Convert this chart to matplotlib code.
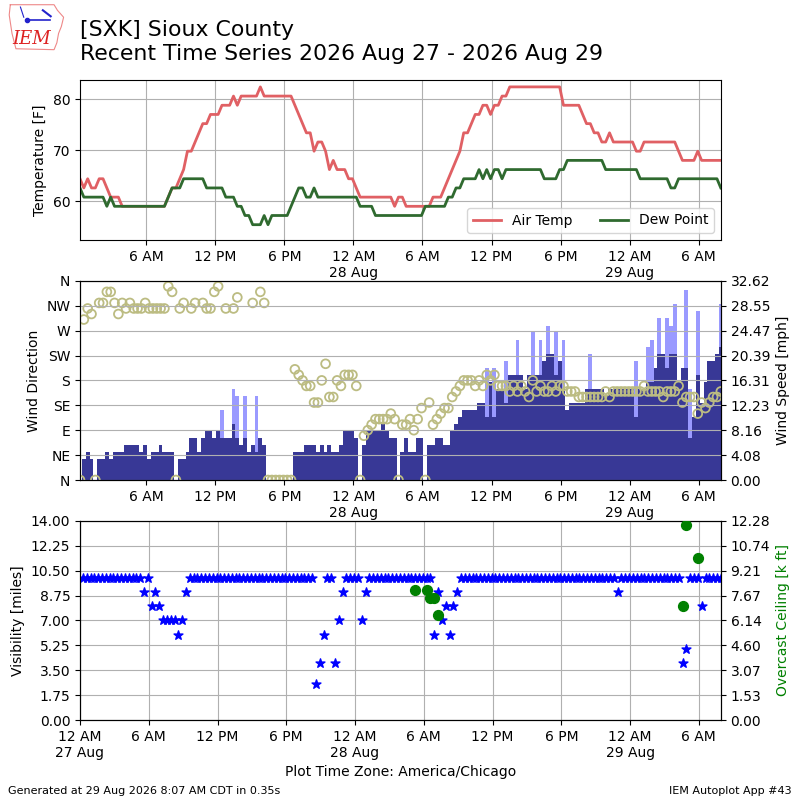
import numpy as np
import pandas as pd
import matplotlib
matplotlib.use('Agg')
import matplotlib.pyplot as plt
import matplotlib.dates as mdates
from matplotlib.ticker import FuncFormatter

N = np.nan

# observation times (AWOS, every 20 min)
obs_start = '2026-08-27 00:15'
obs_end = '2026-08-29 07:55'
plot_start = '2026-08-27 00:00'

# air temperature [F], 12 obs per row (4 hours)
tmpf = [
    64.4, 62.6, 64.4, 62.6, 62.6, 64.4, 64.4, 62.6, 60.8, 60.8, 60.8, 59,
    59, 59, 59, 59, 59, 59, 59, 59, 59, 59, 59, 60.8,
    62.6, 62.6, 64.4, 66.2, 69.8, 69.8, 71.6, 73.4, 75.2, 75.2, 77, 77,
    77, 78.8, 78.8, 78.8, 80.6, 78.8, 80.6, 80.6, 80.6, 80.6, 80.6, 82.4,
    80.6, 80.6, 80.6, 80.6, 80.6, 80.6, 80.6, 80.6, 78.8, 77, 75.2, 73.4,
    73.4, 69.8, 71.6, 71.6, 69.8, 66.2, 68, 66.2, 66.2, 66.2, 64.4, 64.4,
    62.6, 60.8, 60.8, 60.8, 60.8, 60.8, 60.8, 60.8, 60.8, 60.8, 59, 60.8,
    60.8, 59, 59, 59, 59, 59, 59, 59, 60.8, 60.8, 60.8, 62.6,
    64.4, 66.2, 68, 69.8, 73.4, 73.4, 75.2, 77, 77, 78.8, 78.8, 77,
    78.8, 78.8, 80.6, 80.6, 82.4, 82.4, 82.4, 82.4, 82.4, 82.4, 82.4, 82.4,
    82.4, 82.4, 82.4, 82.4, 82.4, 82.4, 78.8, 78.8, 78.8, 78.8, 78.8, 77,
    75.2, 75.2, 73.4, 73.4, 71.6, 71.6, 73.4, 71.6, 71.6, 71.6, 71.6, 71.6,
    71.6, 69.8, 69.8, 71.6, 71.6, 71.6, 71.6, 71.6, 71.6, 71.6, 71.6, 71.6,
    69.8, 68, 68, 68, 68, 69.8, 68, 68, 68, 68, 68, 68,
]

# dew point [F]
dwpf = [
    62.6, 60.8, 60.8, 60.8, 60.8, 60.8, 60.8, 59, 60.8, 59, 59, 59,
    59, 59, 59, 59, 59, 59, 59, 59, 59, 59, 59, 60.8,
    62.6, 62.6, 62.6, 64.4, 64.4, 64.4, 64.4, 64.4, 64.4, 62.6, 62.6, 62.6,
    62.6, 62.6, 60.8, 60.8, 60.8, 59, 59, 57.2, 57.2, 55.4, 55.4, 55.4,
    57.2, 55.4, 57.2, 57.2, 57.2, 57.2, 57.2, 59, 60.8, 62.6, 62.6, 60.8,
    60.8, 62.6, 60.8, 60.8, 60.8, 60.8, 60.8, 60.8, 60.8, 60.8, 60.8, 60.8,
    60.8, 59, 59, 59, 59, 57.2, 57.2, 57.2, 57.2, 57.2, 57.2, 57.2,
    57.2, 57.2, 57.2, 57.2, 57.2, 57.2, 59, 59, 59, 59, 59, 59,
    60.8, 60.8, 62.6, 62.6, 64.4, 64.4, 64.4, 64.4, 66.2, 64.4, 66.2, 64.4,
    66.2, 66.2, 64.4, 66.2, 66.2, 66.2, 66.2, 66.2, 66.2, 66.2, 66.2, 66.2,
    66.2, 64.4, 64.4, 64.4, 64.4, 66.2, 66.2, 68, 68, 68, 68, 68,
    68, 68, 68, 68, 68, 66.2, 66.2, 66.2, 66.2, 66.2, 66.2, 66.2,
    66.2, 66.2, 64.4, 64.4, 64.4, 64.4, 64.4, 64.4, 64.4, 64.4, 62.6, 62.6,
    64.4, 64.4, 64.4, 64.4, 64.4, 64.4, 64.4, 64.4, 64.4, 64.4, 64.4, 62.6,
]

# wind speed [mph]
sped = [
    0, 3.45, 4.6, 3.45, 0, 3.45, 3.45, 4.6, 3.45, 4.6, 4.6, 4.6,
    5.75, 5.75, 5.75, 5.75, 4.6, 5.75, 3.45, 4.6, 4.6, 5.75, 4.6, 4.6,
    4.6, 0, 3.45, 3.45, 4.6, 6.9, 6.9, 4.6, 6.9, 8.06, 8.06, 6.9,
    8.06, 6.9, 6.9, 6.9, 9.2, 6.9, 5.75, 6.9, 4.6, 5.75, 4.6, 6.9,
    5.75, 0, 0, 0, 0, 0, 0, 0, 4.6, 4.6, 4.6, 5.75,
    5.75, 5.75, 4.6, 5.75, 4.6, 5.75, 4.6, 4.6, 5.75, 8.06, 8.06, 8.06,
    6.9, 0, 5.75, 8.06, 8.06, 8.06, 8.06, 9.2, 8.06, 6.9, 6.9, 0,
    4.6, 6.9, 4.6, 4.6, 6.9, 6.9, 0, 5.75, 5.75, 6.9, 6.9, 5.75,
    5.75, 8.06, 9.2, 10.36, 11.5, 11.5, 11.5, 11.5, 12.66, 12.66, 10.36, 16.1,
    10.36, 14.96, 14.96, 12.66, 17.26, 17.26, 17.26, 17.26, 14.96, 17.26, 17.26, 17.26,
    17.26, 19.56, 20.7, 20.7, 17.26, 19.56, 14.96, 11.5, 12.66, 12.66, 12.66, 12.66,
    14.96, 14.96, 14.96, 14.96, 14.96, 13.8, 14.96, 14.96, 14.96, 14.96, 14.96, 14.96,
    14.96, 10.36, 14.96, 14.96, 16.1, 16.1, 18.4, 20.7, 20.7, 18.4, 20.7, 20.7,
    16.1, 18.4, 18.4, 6.9, 10.36, 17.26, 12.66, 16.1, 19.56, 19.56, 20.7, 21.86,
]

# wind gust [mph]
gust = [
    N, N, N, N, N, N, N, N, N, N, N, N,
    N, N, N, N, N, N, N, N, N, N, N, N,
    N, N, N, N, N, N, N, N, N, N, N, N,
    N, 11.5, N, N, 14.96, 13.8, N, 13.8, N, N, 13.8, N,
    N, N, N, N, N, N, N, N, N, N, N, N,
    N, N, N, N, N, N, N, N, N, N, N, N,
    N, N, N, N, N, N, N, N, N, N, N, N,
    N, N, N, N, N, N, N, N, N, N, N, N,
    N, N, N, N, N, N, N, N, N, N, 18.4, N,
    18.4, N, N, 19.56, N, N, 23.0, N, N, N, 24.17, N,
    23.0, N, 25.3, N, 24.17, N, 23.0, N, N, N, N, N,
    N, 20.7, N, N, N, N, N, N, N, N, N, N,
    N, 19.56, N, N, 21.86, 23.0, N, 26.47, N, 26.47, 25.3, 28.77,
    N, N, 31.07, 14.96, N, 27.6, N, N, N, N, N, 28.77,
]

# wind direction [deg]
drct = [
    0, 290, 310, 300, 0, 320, 320, 340, 340, 320, 300, 320,
    310, 320, 310, 310, 310, 320, 310, 310, 310, 310, 310, 350,
    340, 0, 310, 320, N, 310, 320, N, 320, 310, 310, 340,
    350, N, 310, N, 310, 330, N, N, N, 320, N, 340,
    320, 0, 0, 0, 0, 0, 0, 0, 200, 190, 180, 170,
    170, 140, 140, 180, 210, 150, 150, 180, 170, 190, 190, 190,
    170, 0, 80, 90, 100, 110, 110, 110, 110, 120, 110, 0,
    100, 100, 110, 90, 110, 130, 0, 140, 100, 110, 120, 130,
    130, 150, 160, 170, 180, 180, 180, 170, 180, 170, 190, 180,
    190, 170, 170, 170, 160, 170, 160, 170, 160, 150, 180, 160,
    170, 160, 160, 170, 160, 170, 170, 160, 160, 160, 150, 150,
    150, 150, 150, 150, 150, 160, 150, 160, 160, 160, 160, 160,
    160, 160, 160, 170, 160, 160, 160, 160, 150, 160, 160, 160,
    170, 140, 150, 150, 150, 120, 140, 130, 140, 150, 150, 160,
]

# visibility [miles]
vsby = [
    10, 10, 10, 10, 10, 10, 10, 10, 10, 10, 10, 10,
    10, 10, 10, 10, 9, 10, 8, 9, 8, 7, 7, 7,
    7, 6, 7, 9, 10, 10, 10, 10, 10, 10, 10, 10,
    10, 10, 10, 10, 10, 10, 10, 10, 10, 10, 10, 10,
    10, 10, 10, 10, 10, 10, 10, 10, 10, 10, 10, 10,
    10, 2.5, 4, 6, 10, 10, 4, 7, 9, 10, 10, 10,
    10, 7, 9, 10, 10, 10, 10, 10, 10, 10, 10, 10,
    10, 10, 10, 10, 10, 10, 10, 10, 6, 9, 7, 8,
    6, 8, 9, 10, 10, 10, 10, 10, 10, 10, 10, 10,
    10, 10, 10, 10, 10, 10, 10, 10, 10, 10, 10, 10,
    10, 10, 10, 10, 10, 10, 10, 10, 10, 10, 10, 10,
    10, 10, 10, 10, 10, 10, 10, 10, 9, 10, 10, 10,
    10, 10, 10, 10, 10, 10, 10, 10, 10, 10, 10, 10,
    10, 4, 5, 10, 10, 10, 8, 10, 10, 10, 10, 10,
]

# overcast ceiling [k ft]
ceil = [
    N, N, N, N, N, N, N, N, N, N, N, N,
    N, N, N, N, N, N, N, N, N, N, N, N,
    N, N, N, N, N, N, N, N, N, N, N, N,
    N, N, N, N, N, N, N, N, N, N, N, N,
    N, N, N, N, N, N, N, N, N, N, N, N,
    N, N, N, N, N, N, N, N, N, N, N, N,
    N, N, N, N, N, N, N, N, N, N, N, N,
    N, N, N, 8.0, N, N, 8.0, 7.5, 7.5, 6.5, N, N,
    N, N, N, N, N, N, N, N, N, N, N, N,
    N, N, N, N, N, N, N, N, N, N, N, N,
    N, N, N, N, N, N, N, N, N, N, N, N,
    N, N, N, N, N, N, N, N, N, N, N, N,
    N, N, N, N, N, N, N, N, N, N, N, N,
    N, 7.0, 12.0, N, N, 10.0, N, N, N, N, N, N,
]

dir_labels = ['N', 'NE', 'E', 'SE', 'S', 'SW', 'W', 'NW', 'N']

valid = pd.date_range(obs_start, obs_end, freq='20min')
t0 = pd.Timestamp(plot_start)
t1 = pd.Timestamp(obs_end)


def fmt_time(x, pos=None):
    dt = pd.Timestamp(mdates.num2date(x)).tz_localize(None).round('min')
    lbl = dt.strftime('%I %p').lstrip('0')
    if dt.hour == 0:
        lbl += dt.strftime('\n%d %b')
    return lbl


def time_axis(ax):
    ax.xaxis.set_major_locator(mdates.HourLocator(byhour=[0, 6, 12, 18]))
    ax.xaxis.set_major_formatter(FuncFormatter(fmt_time))


fig = plt.figure(figsize=(8, 8), dpi=100)

# title and logo
fig.text(0.10, 0.975, '[SXK] Sioux County\nRecent Time Series 2026 Aug 27 - 2026 Aug 29',
         fontsize=15.8, va='top', ha='left', linespacing=1.25)
lax = fig.add_axes([0.008, 0.935, 0.075, 0.062])
lax.plot([0.02, 0.80, 0.86, 0.97, 0.93, 0.88, 0.85, 0.80, 0.12, 0.05, 0.0, 0.02],
         [0.97, 0.97, 0.85, 0.70, 0.50, 0.35, 0.15, 0.0, 0.02, 0.35, 0.75, 0.97],
         color='#ee8888', lw=0.8)
lax.plot([0.30, 0.72], [0.65, 0.65], color='#2222cc', lw=1.2)
lax.plot([0.32], [0.65], 'o', color='#2222cc', ms=3)
lax.plot([0.20, 0.26], [0.92, 0.70], color='#2222cc', lw=0.8)
lax.plot([0.60, 0.74], [0.85, 0.72], color='#2222cc', lw=1.5)
lax.text(0.40, 0.24, 'IEM', color='#dd2222', fontsize=13, style='italic',
         family='DejaVu Serif', ha='center', va='center')
lax.set_xlim(-0.05, 1.02)
lax.set_ylim(-0.05, 1.02)
lax.axis('off')

# --- temperature panel
ax1 = fig.add_axes([0.10, 0.70, 0.801, 0.20])
ax1.plot(valid, tmpf, color='#e06064', lw=2, label='Air Temp')
ax1.plot(valid, dwpf, color='#2f6a2f', lw=2, label='Dew Point')
ax1.set_ylim(52.4, 83.75)
ax1.set_yticks([60, 70, 80])
ax1.set_ylabel('Temperature [F]')
ax1.set_xlim(valid[0], valid[-1])
time_axis(ax1)
ax1.grid(True)
ax1.legend(loc='lower right', ncol=2)

# --- wind panel: speed bars underneath, direction circles on top
axw = fig.add_axes([0.10, 0.40, 0.801, 0.249])
wlim = np.nanmax(gust) * 1.05
axw.bar(valid, gust, width=20 / 1440., color='#9a9aff')
axw.bar(valid, sped, width=20 / 1440., color='#383896')
axw.set_ylim(0, wlim)
axw.set_xlim(valid[0], valid[-1])

axd = axw.twinx()
axd.scatter(valid, drct, s=40, facecolor='none', edgecolor='#bcbc82', lw=1.3)
axd.set_ylim(0, 360)
axd.set_yticks(range(0, 361, 45))
axd.set_yticklabels(dir_labels)
axd.set_xlim(valid[0], valid[-1])
axd.grid(True)

# swap sides after twinx
axw.yaxis.tick_right()
axw.yaxis.set_label_position('right')
axw.set_yticks(np.linspace(0, wlim, 9))
axw.yaxis.set_major_formatter(FuncFormatter(lambda v, p: '%.2f' % v))
axw.set_ylabel('Wind Speed [mph]')
axd.yaxis.tick_left()
axd.yaxis.set_label_position('left')
axd.set_ylabel('Wind Direction')
time_axis(axd)
time_axis(axw)

# --- visibility / ceiling panel
axv = fig.add_axes([0.10, 0.10, 0.801, 0.249])
axv.scatter(valid, vsby, marker='*', s=45, color='b', zorder=3)
axv.set_ylim(0, 14)
axv.set_yticks(np.arange(0, 14.01, 1.75))
axv.yaxis.set_major_formatter(FuncFormatter(lambda v, p: '%.2f' % v))
axv.set_ylabel('Visibility [miles]')
axv.set_xlim(t0, t1)
time_axis(axv)
axv.grid(True)
axv.set_xlabel('Plot Time Zone: America/Chicago')

axc = axv.twinx()
axc.scatter(valid, ceil, marker='o', s=50, color='g', zorder=3)
axc.set_ylim(0, 12.28)
axc.set_yticks(np.linspace(0, 12.28, 9))
axc.yaxis.set_major_formatter(FuncFormatter(lambda v, p: '%.2f' % v))
axc.set_ylabel('Overcast Ceiling [k ft]', color='g')
axc.set_xlim(t0, t1)

fig.text(0.01, 0.008, 'Generated at 29 Aug 2026 8:07 AM CDT in 0.35s', fontsize=8)
fig.text(0.99, 0.008, 'IEM Autoplot App #43', fontsize=8, ha='right')

fig.savefig('out.png', dpi=100)
